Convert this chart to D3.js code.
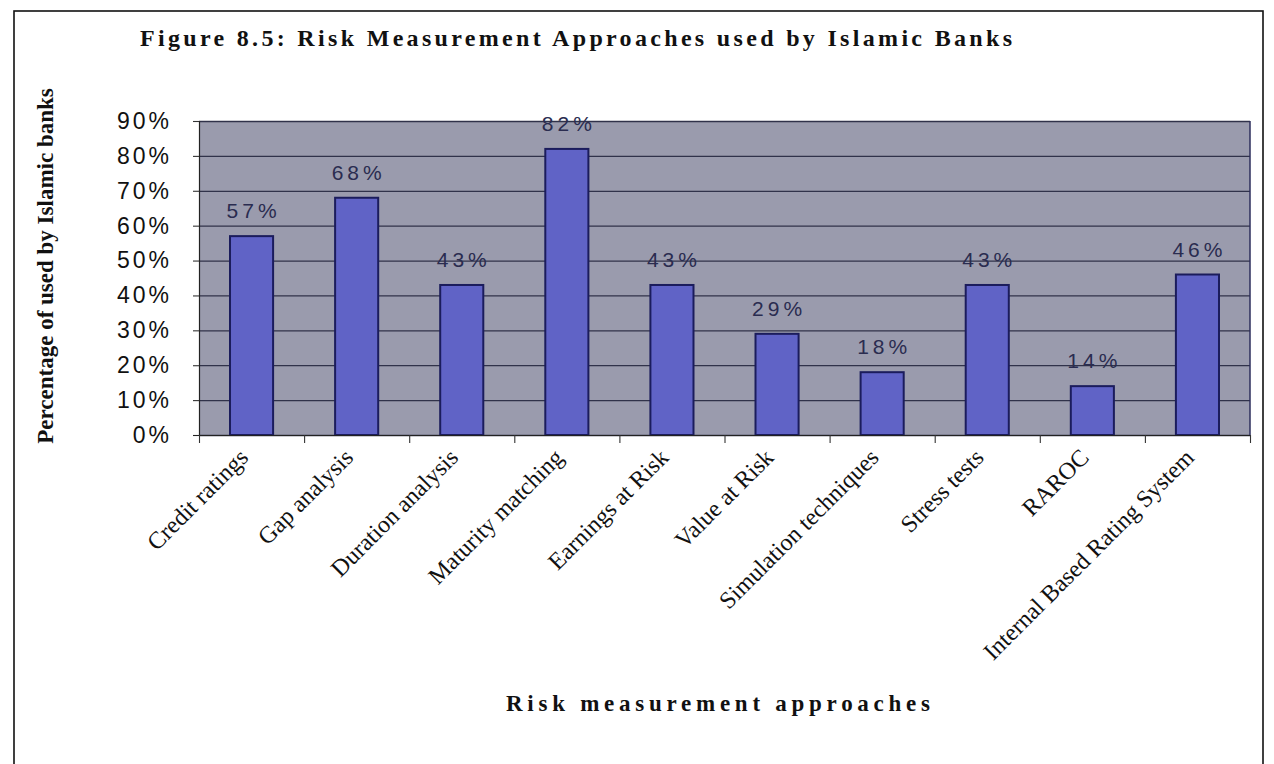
<!DOCTYPE html>
<html>
<head>
<meta charset="utf-8">
<script src="https://cdn.jsdelivr.net/npm/d3@7"></script>
<style>
  html, body { margin: 0; padding: 0; background: #fff; }
  svg { display: block; }
</style>
</head>
<body>
<svg id="chart" width="1274" height="764"></svg>
<script>
// Risk measurement approaches and share of Islamic banks using each (%)
const categories = [
  "Credit ratings", "Gap analysis", "Duration analysis", "Maturity matching",
  "Earnings at Risk", "Value at Risk", "Simulation techniques", "Stress tests",
  "RAROC", "Internal Based Rating System"
];
const values = [57, 68, 43, 82, 43, 29, 18, 43, 14, 46];
const yTickValues = [0, 10, 20, 30, 40, 50, 60, 70, 80, 90];

const titleText = "Figure 8.5: Risk Measurement Approaches used by Islamic Banks";
const yTitleText = "Percentage of used by Islamic banks";
const xTitleText = "Risk measurement approaches";

const svg = d3.select("#chart");
const plot = { left: 199, right: 1250, top: 121, bottom: 435 };

const serif = "'Liberation Serif', 'Times New Roman', serif";
const sans = "'Liberation Sans', Arial, sans-serif";

// outer frame
svg.append("rect")
  .attr("x", 14).attr("y", 11)
  .attr("width", 1249).attr("height", 800)
  .attr("fill", "none").attr("stroke", "#111").attr("stroke-width", 1.6);

// scales
const x = d3.scaleBand()
  .domain(categories)
  .range([plot.left, plot.right])
  .paddingInner(0.59)
  .paddingOuter(0.295);

const y = d3.scaleLinear()
  .domain([0, 90])
  .range([plot.bottom, plot.top]);

// category boundary positions for the tick marks
const xEdge = d3.scaleLinear()
  .domain([0, categories.length])
  .range([plot.left, plot.right]);

// plot background
svg.append("rect")
  .attr("x", plot.left).attr("y", plot.top)
  .attr("width", plot.right - plot.left)
  .attr("height", plot.bottom - plot.top)
  .attr("fill", "#9a9bad");

// horizontal gridlines
svg.append("g")
  .attr("transform", `translate(${plot.left},0)`)
  .call(d3.axisLeft(y).tickValues(yTickValues).tickSize(-(plot.right - plot.left)).tickFormat(""))
  .call(g => g.select(".domain").remove())
  .call(g => g.selectAll("line").attr("stroke", "#30324a").attr("stroke-width", 1.3));

// right border of plot area
svg.append("line")
  .attr("x1", plot.right).attr("x2", plot.right)
  .attr("y1", plot.top).attr("y2", plot.bottom)
  .attr("stroke", "#2c2e5c").attr("stroke-width", 1.5);

// bars
svg.append("g").selectAll("rect")
  .data(values)
  .join("rect")
  .attr("x", (d, i) => x(categories[i]))
  .attr("y", d => y(d))
  .attr("width", x.bandwidth())
  .attr("height", d => y(0) - y(d))
  .attr("fill", "#6063c6")
  .attr("stroke", "#1b1c5c")
  .attr("stroke-width", 2);

// value labels
svg.append("g").selectAll("text")
  .data(values)
  .join("text")
  .attr("x", (d, i) => x(categories[i]) + x.bandwidth() / 2 + 2)
  .attr("y", d => y(d) - 18)
  .attr("text-anchor", "middle")
  .attr("font-family", sans)
  .attr("font-size", 21)
  .attr("letter-spacing", 4)
  .attr("fill", "#2a2c50")
  .text(d => d + "%");

// y axis
const yAxis = svg.append("g")
  .attr("transform", `translate(${plot.left},0)`)
  .call(d3.axisLeft(y).tickValues(yTickValues).tickSize(6).tickPadding(21).tickFormat(d => d + "%"));
yAxis.select(".domain").attr("stroke", "#222").attr("stroke-width", 1.2);
yAxis.selectAll(".tick line").attr("stroke", "#333").attr("stroke-width", 1.1);
yAxis.selectAll(".tick text")
  .attr("font-family", sans)
  .attr("font-size", 23)
  .attr("letter-spacing", 3)
  .attr("fill", "#111");

// x axis line with ticks at category boundaries
const xAxis = svg.append("g")
  .attr("transform", `translate(0,${plot.bottom})`)
  .call(d3.axisBottom(xEdge).tickValues(d3.range(categories.length + 1)).tickSize(8).tickFormat(""));
xAxis.select(".domain").attr("stroke", "#222").attr("stroke-width", 1.2)
  .attr("d", `M${plot.left - 6},0.5H${plot.right}`);
xAxis.selectAll(".tick line").attr("stroke", "#333").attr("stroke-width", 1.1);

// rotated category labels
svg.append("g").selectAll("text")
  .data(categories)
  .join("text")
  .attr("transform", d => `translate(${x(d) + x.bandwidth() / 2 - 8},${plot.bottom + 18}) rotate(-45)`)
  .attr("text-anchor", "end")
  .attr("dy", "0.35em")
  .attr("font-family", serif)
  .attr("font-size", 24)
  .attr("fill", "#111")
  .text(d => d);

// chart title
svg.append("text")
  .attr("x", 140).attr("y", 46)
  .attr("textLength", 872)
  .attr("lengthAdjust", "spacing")
  .attr("font-family", serif)
  .attr("font-weight", "bold")
  .attr("font-size", 24)
  .attr("fill", "#111")
  .text(titleText);

// y axis title
svg.append("text")
  .attr("transform", `translate(53,266) rotate(-90)`)
  .attr("text-anchor", "middle")
  .attr("font-family", serif)
  .attr("font-weight", "bold")
  .attr("font-size", 23)
  .attr("fill", "#111")
  .text(yTitleText);

// x axis title
svg.append("text")
  .attr("x", 506).attr("y", 711)
  .attr("textLength", 424)
  .attr("lengthAdjust", "spacing")
  .attr("font-family", serif)
  .attr("font-weight", "bold")
  .attr("font-size", 23)
  .attr("fill", "#111")
  .text(xTitleText);
</script>
</body>
</html>
